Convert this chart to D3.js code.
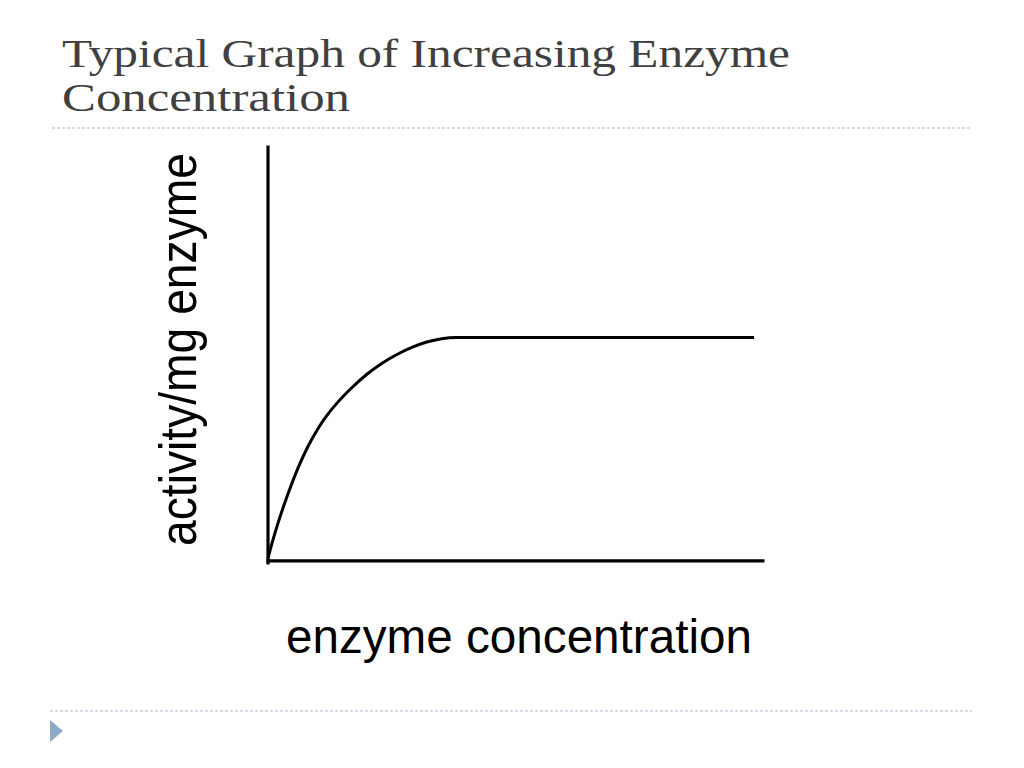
<!DOCTYPE html>
<html>
<head>
<meta charset="utf-8">
<script src="https://cdn.jsdelivr.net/npm/d3@7"></script>
<style>
  html, body { margin: 0; padding: 0; background: #fff; }
  svg { display: block; }
</style>
</head>
<body>
<script>
// ---- data ----
const titleLines = ["Typical Graph of Increasing Enzyme", "Concentration"];
const xLabel = "enzyme concentration";
const yLabel = "activity/mg enzyme";
const enzymeConc = [0, 1, 2, 4, 6, 8, 10, 12, 14, 17, 20, 23, 26, 29, 32, 35, 38, 98];
const activity   = [0.4, 4.8, 8.8, 15.8, 22.0, 27.2, 31.5, 35.0, 37.9, 41.6, 44.8, 47.4, 49.5, 51.2, 52.5, 53.3, 53.6, 53.6];

const W = 1024, H = 768;
const svg = d3.select("body").append("svg").attr("width", W).attr("height", H);

// ---- title ----
const titleWidths = [728, 288];
const titleY = [67, 111];
titleLines.forEach((t, i) => {
  svg.append("text")
    .attr("x", 62).attr("y", titleY[i])
    .attr("font-family", "'Liberation Serif', 'DejaVu Serif', serif")
    .attr("font-size", 39)
    .attr("fill", "#404040")
    .attr("textLength", titleWidths[i])
    .attr("lengthAdjust", "spacingAndGlyphs")
    .text(t);
});

// dotted separator lines
svg.append("line").attr("x1", 52).attr("x2", 972).attr("y1", 128).attr("y2", 128)
  .attr("stroke", "#a9b7c9").attr("stroke-width", 1.2).attr("stroke-dasharray", "3,2");
svg.append("line").attr("x1", 50).attr("x2", 972).attr("y1", 711).attr("y2", 711)
  .attr("stroke", "#a9b7c9").attr("stroke-width", 1.2).attr("stroke-dasharray", "3,2");

// bullet triangle
svg.append("path").attr("d", "M50,720 L63,731 L50,742 Z").attr("fill", "#8eaacb");

// ---- scales ----
const x = d3.scaleLinear().domain([0, 100]).range([268, 764]);
const y = d3.scaleLinear().domain([-1, 100]).range([564, 145]);

// axes (no ticks)
const yAxis = svg.append("g").attr("transform", `translate(${x(0) - 0.5},0)`)
  .call(d3.axisLeft(y).tickValues([]).tickSizeOuter(0));
const xAxis = svg.append("g").attr("transform", `translate(0,${y(0) + 0.5})`)
  .call(d3.axisBottom(d3.scaleLinear().domain([0, 100]).range([266, 764])).tickValues([]).tickSizeOuter(0));
[yAxis, xAxis].forEach(g => g.select(".domain").attr("stroke", "#000").attr("stroke-width", 3.2));

// curve
const pts = enzymeConc.map((c, i) => [c, activity[i]]);
svg.append("path")
  .datum(pts)
  .attr("fill", "none")
  .attr("stroke", "#000")
  .attr("stroke-width", 3)
  .attr("d", d3.line().x(d => x(d[0])).y(d => y(d[1])).curve(d3.curveMonotoneX));

// axis labels
svg.append("text")
  .attr("x", 286).attr("y", 653)
  .attr("font-family", "'Liberation Sans', Arial, sans-serif")
  .attr("font-size", 48)
  .attr("fill", "#000")
  .attr("textLength", 466)
  .attr("lengthAdjust", "spacingAndGlyphs")
  .text(xLabel);

svg.append("text")
  .attr("transform", "translate(196,546) rotate(-90)")
  .attr("font-family", "'Liberation Sans', Arial, sans-serif")
  .attr("font-size", 52)
  .attr("fill", "#000")
  .attr("textLength", 393)
  .attr("lengthAdjust", "spacingAndGlyphs")
  .text(yLabel);
</script>
</body>
</html>
